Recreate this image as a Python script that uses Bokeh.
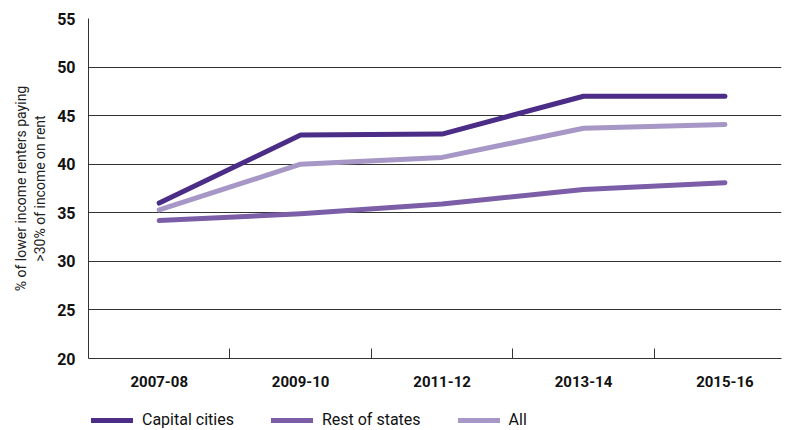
from bokeh.plotting import figure
from bokeh.layouts import column
from bokeh.models import FixedTicker, Legend, LegendItem, Range1d
from bokeh.embed import file_html
from bokeh.resources import INLINE

years = ["2007-08", "2009-10", "2011-12", "2013-14", "2015-16"]
capital = [36.0, 43.0, 43.1, 47.0, 47.0]
rest = [34.2, 34.9, 35.9, 37.4, 38.1]
all_vals = [35.3, 40.0, 40.7, 43.7, 44.1]
y_ticks = [20, 25, 30, 35, 40, 45, 50, 55]
series_names = ["Capital cities", "Rest of states", "All"]
colors = ["#4b2c86", "#7b5ea7", "#a697c6"]

xs = list(range(len(years)))
font = "Roboto"

p = figure(width=790, height=395, output_backend="svg", toolbar_location=None,
           x_range=Range1d(-0.5, 4.4), y_range=Range1d(20, 55),
           min_border_left=88, min_border_top=18, min_border_right=9, min_border_bottom=37)
p.outline_line_color = None
p.background_fill_color = "white"

for vals, c in zip([capital, rest, all_vals], colors):
    p.line(xs, vals, line_color=c, line_width=5, line_cap="round", line_join="round")

# x axis
p.xaxis.ticker = FixedTicker(ticks=xs, minor_ticks=[0.5, 1.5, 2.5, 3.5])
p.xaxis.major_label_overrides = {i: y for i, y in enumerate(years)}
p.xaxis.major_tick_line_color = None
p.xaxis.minor_tick_in = 10
p.xaxis.minor_tick_out = 0
p.xaxis.minor_tick_line_color = "#333333"
p.xaxis.axis_line_color = "#333333"
p.xaxis.major_label_standoff = 11
p.xaxis.major_label_text_font = font
p.xaxis.major_label_text_font_size = "15px"
p.xaxis.major_label_text_color = "#111111"
p.xaxis.major_label_text_font_style = "bold"
p.xgrid.grid_line_color = None

# y axis
p.yaxis.ticker = FixedTicker(ticks=y_ticks)
p.yaxis.major_tick_line_color = None
p.yaxis.minor_tick_line_color = None
p.yaxis.axis_line_color = "#333333"
p.yaxis.major_label_standoff = 7
p.yaxis.major_label_text_font = font
p.yaxis.major_label_text_font_size = "16px"
p.yaxis.major_label_text_color = "#111111"
p.yaxis.major_label_text_font_style = "bold"
p.yaxis.axis_label = "% of lower income renters paying\n>30% of income on rent"
p.yaxis.axis_label_text_font = font
p.yaxis.axis_label_text_font_size = "14px"
p.yaxis.axis_label_text_font_style = "normal"
p.yaxis.axis_label_text_color = "#222222"
p.yaxis.axis_label_standoff = 6
p.ygrid.grid_line_color = "#333333"
p.ygrid.grid_line_width = 1

# legend strip (separate figure, same series drawn out of view)
lg = figure(width=790, height=35, output_backend="svg", toolbar_location=None,
            x_range=Range1d(100, 101), y_range=Range1d(100, 101),
            min_border_left=0, min_border_top=0, min_border_right=0, min_border_bottom=0)
lg.axis.visible = False
lg.grid.grid_line_color = None
lg.outline_line_color = None
items = []
for name, vals, c in zip(series_names, [capital, rest, all_vals], colors):
    r = lg.line(xs, vals, line_color=c, line_width=5, line_cap="round")
    items.append(LegendItem(label=name, renderers=[r]))

legend = Legend(items=items, orientation="horizontal", border_line_color=None,
                label_text_font=font, label_text_font_size="16px",
                label_text_color="#111111", glyph_width=42, glyph_height=14,
                spacing=37, padding=0, margin=0, label_standoff=9,
                location=(3, 1))
lg.add_layout(legend, "center")

layout = column(p, lg, spacing=0)
open("out.html", "w").write(file_html(layout, INLINE))
